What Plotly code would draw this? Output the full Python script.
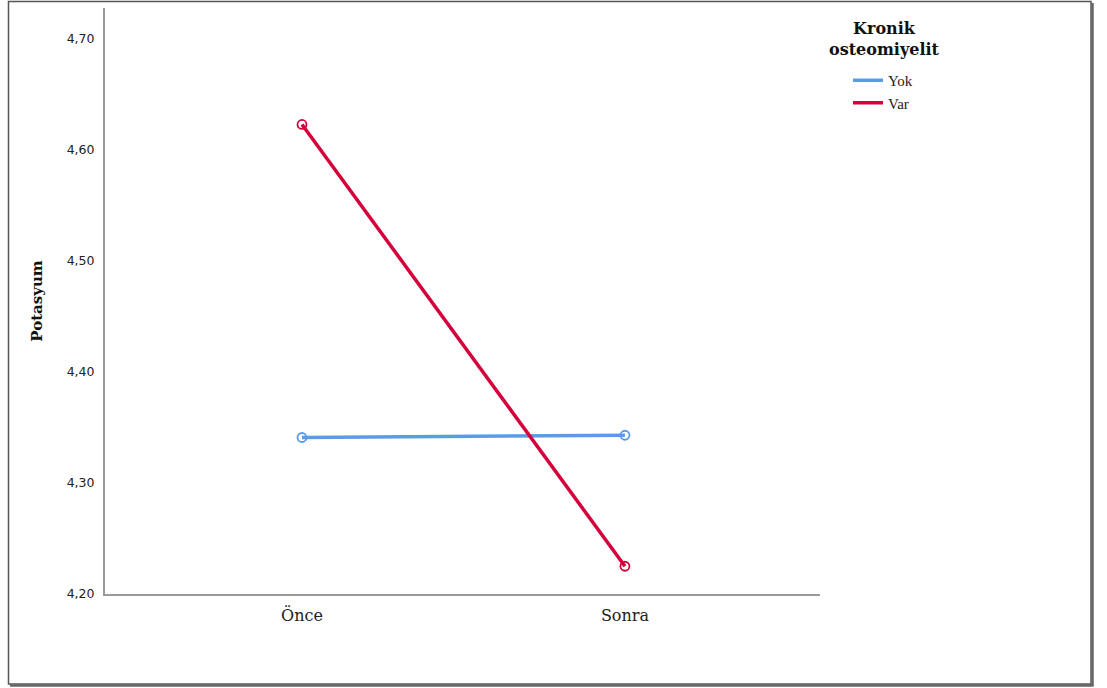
import plotly.graph_objects as go

# Estimated marginal means of Potasyum by time and group
zaman = ["Önce", "Sonra"]
yok = [4.341, 4.343]
var = [4.623, 4.225]
y_ticks = [4.20, 4.30, 4.40, 4.50, 4.60, 4.70]

BLUE = "#5b9be6"
RED = "#d5003b"
W, H = 1107, 688
L, R, T, B = 105, 820, 8, 594  # plot area in pixels


def px(x):
    return (x - L) / (R - L)


def py(y):
    return (B - y) / (B - T)


fig = go.Figure()
for name, vals, col in [("Yok", yok, BLUE), ("Var", var, RED)]:
    fig.add_trace(go.Scatter(
        x=zaman, y=vals, mode="lines+markers", name=name,
        line=dict(color=col, width=3.5),
        marker=dict(symbol="circle-open", size=9, color=col, line=dict(width=1.8)),
        showlegend=False,
    ))
    # line-only legend entry
    fig.add_trace(go.Scatter(
        x=[None], y=[None], mode="lines", name=name,
        line=dict(color=col, width=3.5), showlegend=True,
    ))

fig.update_layout(
    width=W, height=H,
    margin=dict(l=L, r=W - R, t=T, b=H - B),
    paper_bgcolor="white", plot_bgcolor="white",
    separators=",.",
    showlegend=True,
    legend=dict(
        x=px(848), y=py(64), xanchor="left", yanchor="top",
        font=dict(family="Liberation Serif", size=15, color="#222"),
        itemwidth=30, tracegroupgap=0, bgcolor="rgba(0,0,0,0)",
    ),
    xaxis=dict(
        type="category", range=[-0.61, 1.604],
        showline=True, linecolor="#9a9a9a", linewidth=2,
        showgrid=False, zeroline=False, ticks="",
        tickfont=dict(family="DejaVu Serif", size=16, color="#222"),
        ticklabelstandoff=6,
    ),
    yaxis=dict(
        range=[4.20, 4.20 + (B - T) / 1110],
        tickvals=y_ticks, tickformat=".2f",
        showline=True, linecolor="#9a9a9a", linewidth=2,
        showgrid=False, zeroline=False, ticks="",
        tickfont=dict(family="DejaVu Sans", size=12.5, color="#222"),
        ticklabelstandoff=6,
        title=dict(text="<b>Potasyum</b>",
                   font=dict(family="DejaVu Serif", size=15, color="#111"),
                   standoff=20),
    ),
    annotations=[
        dict(text="<b>Kronik<br>osteomiyelit</b>", xref="paper", yref="paper",
             x=px(885), y=py(39), xanchor="center", yanchor="middle",
             showarrow=False, align="center",
             font=dict(family="DejaVu Serif", size=16, color="#111")),
    ],
    shapes=[
        dict(type="rect", xref="paper", yref="paper",
             x0=px(8.5), x1=px(1091), y0=py(684), y1=py(1.5),
             line=dict(color="#555", width=1.5)),
        dict(type="line", xref="paper", yref="paper",
             x0=px(1092.5), x1=px(1092.5), y0=py(686), y1=py(3),
             line=dict(color="#666", width=2.5)),
        dict(type="line", xref="paper", yref="paper",
             x0=px(10), x1=px(1093.5), y0=py(685.5), y1=py(685.5),
             line=dict(color="#666", width=2.5)),
    ],
)

fig.write_html("out.html")
